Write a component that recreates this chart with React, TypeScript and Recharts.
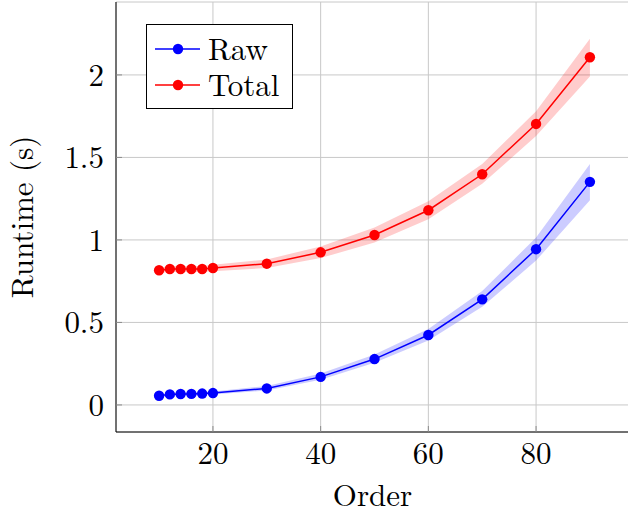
import React from "react";
import {
  ComposedChart,
  Line,
  Area,
  XAxis,
  YAxis,
  CartesianGrid,
  Legend,
} from "recharts";

const orders = [10, 12, 14, 16, 18, 20, 30, 40, 50, 60, 70, 80, 90];
const rawMean = [0.056, 0.064, 0.066, 0.067, 0.069, 0.072, 0.1, 0.17, 0.278, 0.424, 0.64, 0.944, 1.352];
const rawLow = [0.05, 0.056, 0.058, 0.059, 0.06, 0.063, 0.088, 0.152, 0.255, 0.39, 0.595, 0.875, 1.24];
const rawHigh = [0.062, 0.072, 0.074, 0.075, 0.078, 0.082, 0.115, 0.19, 0.305, 0.46, 0.69, 1.015, 1.46];
const totalMean = [0.816, 0.824, 0.824, 0.824, 0.824, 0.83, 0.856, 0.925, 1.03, 1.18, 1.398, 1.703, 2.107];
const totalLow = [0.8, 0.806, 0.806, 0.806, 0.806, 0.81, 0.83, 0.89, 0.985, 1.125, 1.34, 1.63, 1.99];
const totalHigh = [0.832, 0.842, 0.842, 0.842, 0.842, 0.85, 0.882, 0.96, 1.075, 1.235, 1.46, 1.78, 2.22];

const xTicks = [20, 40, 60, 80];
const yTicks = [0, 0.5, 1, 1.5, 2];
const seriesNames = ["Raw", "Total"];
const seriesColors = ["#0000ff", "#ff0000"];
const xLabel = "Order";
const yLabel = "Runtime (s)";

const data = orders.map((o, i) => ({
  order: o,
  raw: rawMean[i],
  rawBand: [rawLow[i], rawHigh[i]],
  total: totalMean[i],
  totalBand: [totalLow[i], totalHigh[i]],
}));

const FONT = "Latin Modern Roman";
const FS = 31;
const tickStyle = { fontFamily: FONT, fontSize: FS, fill: "#000" };
const tickLineStyle = { stroke: "#8c8c8c", strokeWidth: 1 };

const fmtY = (v: number) => String(v);

const LegendBox = () => (
  <div
    style={{
      border: "1px solid #000",
      background: "#fff",
      width: 147,
      height: 85,
      fontFamily: FONT,
      fontSize: FS,
      paddingTop: 6,
      boxSizing: "border-box",
    }}
  >
    {seriesNames.map((n, i) => (
      <div key={n} style={{ display: "flex", alignItems: "center", height: 36 }}>
        <svg width={61} height={36} style={{ display: "block", flex: "none" }}>
          <line x1={8} x2={53} y1={18} y2={18} stroke={seriesColors[i]} strokeWidth={1.5} />
          <circle cx={31} cy={18} r={5.2} fill={seriesColors[i]} />
        </svg>
        <span
          style={{
            color: "#000",
            lineHeight: "36px",
            height: 36,
            position: "relative",
            top: -2,
            whiteSpace: "nowrap",
          }}
        >
          {n}
        </span>
      </div>
    ))}
  </div>
);

export default function App() {
  return (
    <div
      style={{
        position: "absolute",
        left: 0,
        top: 0,
        width: 628,
        height: 510,
        overflow: "hidden",
        background: "#fff",
      }}
    >
      <ComposedChart
        width={635}
        height={510}
        data={data}
        margin={{ top: 2, right: 2, bottom: 0, left: 0 }}
      >
        <CartesianGrid stroke="#c8c8c8" strokeWidth={1} />
        <XAxis
          dataKey="order"
          type="number"
          domain={[2, 98]}
          ticks={xTicks}
          allowDataOverflow
          height={78}
          tickSize={-6}
          tickMargin={16}
          tick={tickStyle}
          tickLine={tickLineStyle}
          axisLine={{ stroke: "#000", strokeWidth: 1 }}
          label={{
            content: (p: any) => {
              const vb = p.viewBox || { x: 116, y: 432, width: 517, height: 78 };
              return (
                <text
                  x={vb.x + vb.width / 2 - 2}
                  y={vb.y + 74}
                  textAnchor="middle"
                  fontFamily={FONT}
                  fontSize={FS}
                  fill="#000"
                >
                  {xLabel}
                </text>
              );
            },
          }}
        />
        <XAxis
          xAxisId="top"
          orientation="top"
          dataKey="order"
          type="number"
          domain={[2, 98]}
          ticks={xTicks}
          allowDataOverflow
          height={0}
          tickSize={-6}
          tickFormatter={() => ""}
          tickLine={tickLineStyle}
          axisLine={{ stroke: "#000", strokeWidth: 1 }}
        />
        <YAxis
          type="number"
          domain={[-0.164, 2.442]}
          ticks={yTicks}
          allowDataOverflow
          width={116}
          tickSize={-6}
          tickMargin={18}
          tick={tickStyle}
          tickFormatter={fmtY}
          tickLine={tickLineStyle}
          axisLine={{ stroke: "#000", strokeWidth: 1 }}
          label={{
            content: (p: any) => {
              const vb = p.viewBox || { x: 0, y: 2, width: 116, height: 430 };
              const cx = vb.x + 33;
              const cy = vb.y + vb.height / 2;
              return (
                <text
                  x={cx}
                  y={cy}
                  transform={`rotate(-90 ${cx} ${cy})`}
                  textAnchor="middle"
                  fontFamily={FONT}
                  fontSize={FS}
                  fill="#000"
                >
                  {yLabel}
                </text>
              );
            },
          }}
        />
        <YAxis
          yAxisId="right"
          orientation="right"
          type="number"
          domain={[-0.164, 2.442]}
          ticks={yTicks}
          allowDataOverflow
          width={0}
          tickSize={-6}
          tickFormatter={() => ""}
          tickLine={tickLineStyle}
          axisLine={{ stroke: "#000", strokeWidth: 1 }}
        />
        <Area
          type="linear"
          dataKey="rawBand"
          stroke="none"
          fill="#0000ff"
          fillOpacity={0.2}
          isAnimationActive={false}
          legendType="none"
          activeDot={false}
        />
        <Area
          type="linear"
          dataKey="totalBand"
          stroke="none"
          fill="#ff0000"
          fillOpacity={0.2}
          isAnimationActive={false}
          legendType="none"
          activeDot={false}
        />
        <Line
          type="linear"
          dataKey="raw"
          name={seriesNames[0]}
          stroke={seriesColors[0]}
          strokeWidth={1.5}
          dot={{ r: 5.2, fill: seriesColors[0], stroke: "none" }}
          activeDot={false}
          isAnimationActive={false}
        />
        <Line
          type="linear"
          dataKey="total"
          name={seriesNames[1]}
          stroke={seriesColors[1]}
          strokeWidth={1.5}
          dot={{ r: 5.2, fill: seriesColors[1], stroke: "none" }}
          activeDot={false}
          isAnimationActive={false}
        />
        <Legend
          layout="vertical"
          align="center"
          verticalAlign="middle"
          content={() => <LegendBox />}
          wrapperStyle={{ left: 146, top: 24, width: 147, height: 85 }}
        />
      </ComposedChart>
    </div>
  );
}
